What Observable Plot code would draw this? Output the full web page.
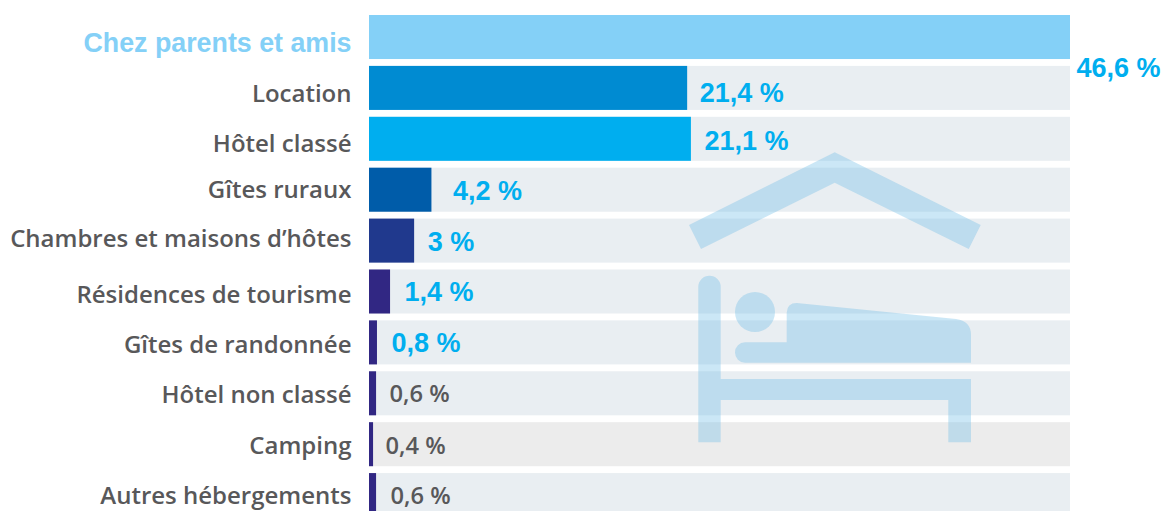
<!DOCTYPE html>
<html lang="fr">
<head>
<meta charset="utf-8">
<script src="https://cdn.jsdelivr.net/npm/d3@7"></script>
<script src="https://cdn.jsdelivr.net/npm/@observablehq/plot@0.6"></script>
<style>
html,body{margin:0;padding:0;background:#fff;overflow:hidden}
svg{display:block}
</style>
</head>
<body>
<div id="chart"></div>
<script>
const categories = ["Chez parents et amis","Location","Hôtel classé","Gîtes ruraux","Chambres et maisons d’hôtes","Résidences de tourisme","Gîtes de randonnée","Hôtel non classé","Camping","Autres hébergements"];
const valueLabels = ["46,6 %","21,4 %","21,1 %","4,2 %","3 %","1,4 %","0,8 %","0,6 %","0,4 %","0,6 %"];
const barLengths = [46.6,21.15,21.4,4.15,3,1.4,0.53,0.47,0.27,0.47];
const barColors = ["#84d0f7","#008bd2","#00aeef","#005ca9","#20398d","#312783","#312783","#312783","#312783","#312783"];
const trackColors = ["#e9eef2","#e9eef2","#e9eef2","#e9eef2","#e9eef2","#e9eef2","#e9eef2","#e9eef2","#ececec","#e9eef2"];
const fullScale = 46.6;

// optical nudges of the text relative to its row (px)
const labelNudge = [6,6,5,0,-2,3,2,2,2,1];
const valueNudge = [31,5,2,1,1,0,0,1,2,1];
const valueGap   = [6,12,13,21,13,14,14,13,12,14];

const rows = categories.map((name,i)=>({name,label:valueLabels[i],len:barLengths[i],color:barColors[i],track:trackColors[i],full:fullScale,i}));

const GRAY="#58585a", CYAN="#00aeef";
const sans="'Liberation Sans',Arial,sans-serif", open="'Open Sans',sans-serif";

function icon(){
  const g=d3.create("svg:g").attr("fill","#6fbce6").attr("fill-opacity",0.36);
  const paths=[
    "M834.7 152.3L980.7 225L968.7 249L834.7 182.7L701 249L689 225Z",
    "M698.3 287A11.2 11.2 0 0 1 720.7 287V379H971V442.3H948.3V400H720.7V442.3H698.3Z",
    "M735 352.5A10.2 10.2 0 0 1 745 342.3H786.7V312.7Q787 303 796.7 303L956 319Q971 321 971 335V362.7H745A10.2 10.2 0 0 1 735 352.5Z"
  ];
  paths.forEach(d=>g.append("path").attr("d",d));
  g.append("circle").attr("cx",755).attr("cy",312).attr("r",20);
  return g.node();
}

const textMarks=[];
rows.forEach(r=>{
  const first=r.i===0, cyan=r.i<=6;
  textMarks.push(Plot.text([r],{
    x:0,y:"name",text:"name",textAnchor:"end",dx:-18,dy:labelNudge[r.i],
    fill:first?"#84d0f7":GRAY,
    fontFamily:first?sans:open,fontWeight:first?700:600,fontSize:first?26.8:24
  }));
  textMarks.push(Plot.text([r],{
    x:"len",y:"name",text:"label",textAnchor:"start",dx:valueGap[r.i],dy:valueNudge[r.i],
    fill:cyan?CYAN:GRAY,
    fontFamily:cyan?sans:open,fontWeight:cyan?700:600,fontSize:cyan?27:23.7
  }));
});

const chart=Plot.plot({
  width:1163,height:511,
  margin:0,
  style:{background:"#fff",overflow:"hidden"},
  x:{domain:[0,fullScale],range:[369,1070],axis:null},
  y:{domain:categories,range:[15,517.1],paddingInner:0.135,paddingOuter:0,align:0,round:false,axis:null},
  marks:[
    Plot.barX(rows,{x1:0,x2:"full",y:"name",fill:"track"}),
    icon,
    Plot.barX(rows,{x1:0,x2:"len",y:"name",fill:"color"}),
    ...textMarks
  ],
  color:{type:"identity"}
});
document.getElementById("chart").append(chart);
</script>
</body>
</html>
